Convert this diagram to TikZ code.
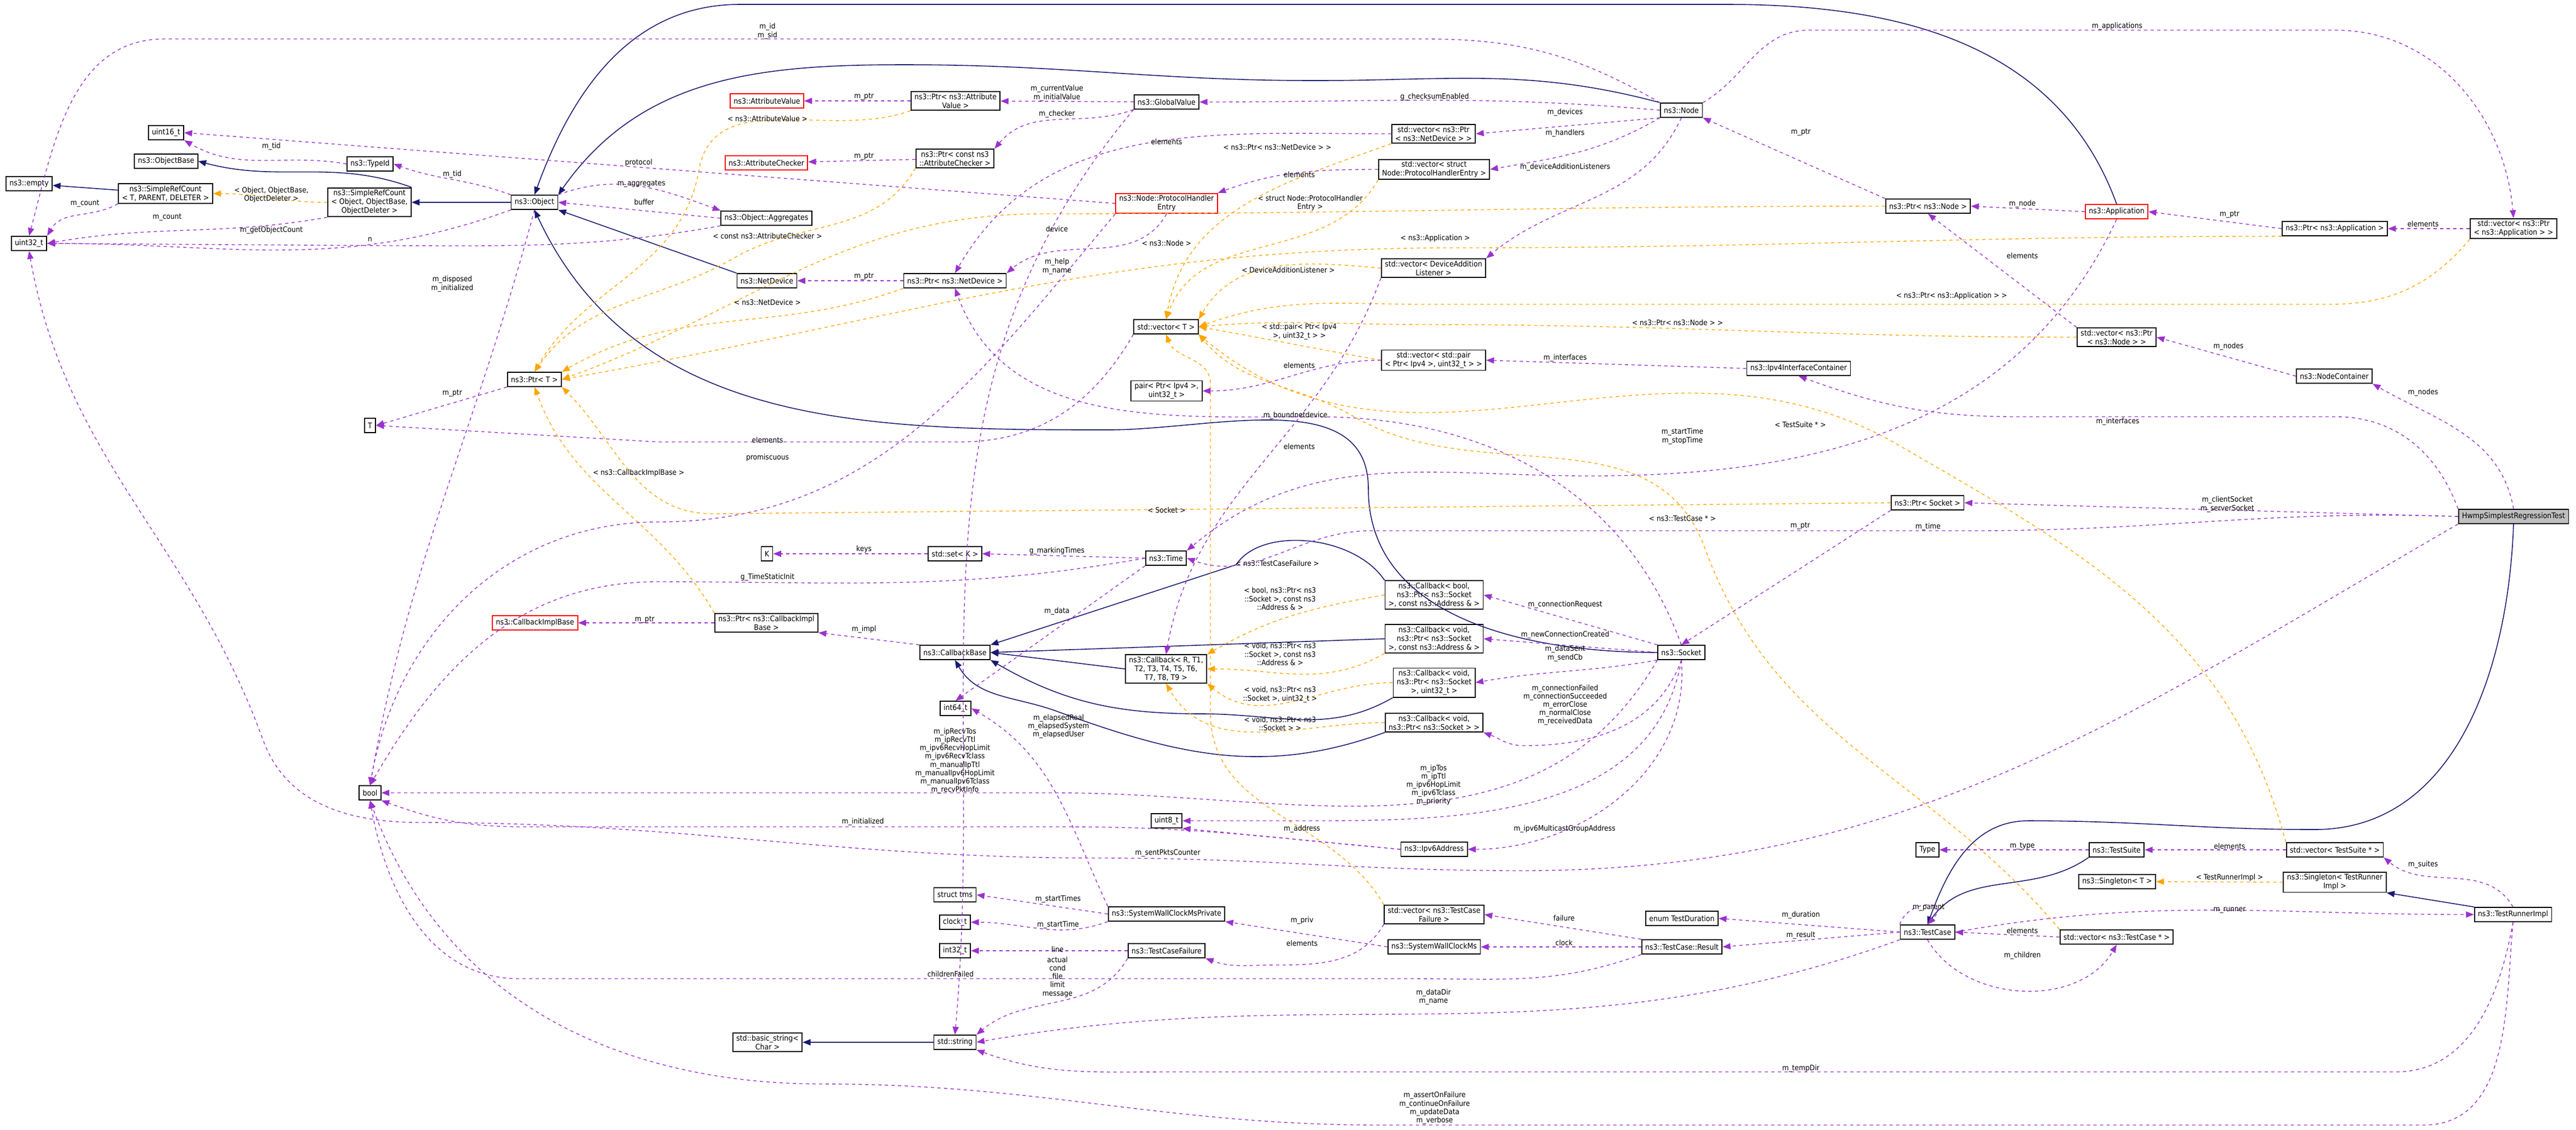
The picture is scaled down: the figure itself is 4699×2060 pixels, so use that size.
\documentclass[tikz,border=0pt]{standalone}
\usepackage{fontspec}
\setmainfont{DejaVu Sans Condensed}
\usetikzlibrary{arrows.meta}

\definecolor{edgepurple}{HTML}{9A32CD}
\definecolor{edgeorange}{HTML}{FFA500}
\definecolor{edgenavy}{HTML}{191970}

\begin{document}
\begin{tikzpicture}[
    x = 0.25pt, y = -0.25pt, % one unit per pixel
    cls/.style={draw, fill=white, line width=0.45pt, align=center,
      font=\fontsize{3.5}{4}\selectfont, inner xsep=1.6pt, inner ysep=0.9pt,
      minimum height=6.5pt},
    redcls/.style={cls, draw=red},
    maincls/.style={cls, fill=black!25},
    lbl/.style={font=\fontsize{3.4}{3.8}\selectfont, inner sep=0.2pt, align=center},
    member/.style={draw=edgepurple, line width=0.35pt, dash pattern=on 1.5pt off 1.5pt,
      -{Triangle[length=3.6pt,width=2.8pt]}},
    tmpl/.style={member, draw=edgeorange},
    inherit/.style={draw=edgenavy, line width=0.4pt, -{Triangle[length=3.6pt,width=2.8pt]}}
  ]
  \useasboundingbox (0,0) rectangle (4699,2060);

  % Nodes
  \node[cls] (empty) at (53,335) {ns3::empty};
  \node[cls] (uint32) at (53,444) {uint32\_t};
  \node[cls] (uint16) at (303,242) {uint16\_t};
  \node[cls] (objBase) at (303,294) {ns3::ObjectBase};
  \node[cls] (srcT) at (302,353) {ns3::SimpleRefCount\\{}< T, PARENT, DELETER >};
  \node[cls] (typeId) at (675,299) {ns3::TypeId};
  \node[cls] (srcObj) at (674,369) {ns3::SimpleRefCount\\{}< Object, ObjectBase,\\ObjectDeleter >};
  \node[cls] (object) at (975,369) {ns3::Object};
  \node[cls] (ptrT) at (975,692) {ns3::Ptr< T >};
  \node[cls] (tT) at (675,776) {T};
  \node[redcls] (attrVal) at (1399,184) {ns3::AttributeValue};
  \node[cls] (ptrAttrVal) at (1743,184) {ns3::Ptr< ns3::Attribute\\Value >};
  \node[cls] (globalVal) at (2128,186) {ns3::GlobalValue};
  \node[redcls] (attrChk) at (1398,297) {ns3::AttributeChecker};
  \node[cls] (ptrAttrChk) at (1742,289) {ns3::Ptr< const ns3\\::AttributeChecker >};
  \node[cls] (aggr) at (1398,398) {ns3::Object::Aggregates};
  \node[redcls] (phe) at (2128,371) {ns3::Node::ProtocolHandler\\Entry};
  \node[cls] (netDev) at (1399,512) {ns3::NetDevice};
  \node[cls] (ptrNetDev) at (1742,512) {ns3::Ptr< ns3::NetDevice >};
  \node[cls] (vecT) at (2127,596) {std::vector< T >};
  \node[cls] (node) at (3067,201) {ns3::Node};
  \node[cls] (vecNetDev) at (2615,244) {std::vector< ns3::Ptr\\{}< ns3::NetDevice > >};
  \node[cls] (vecPhe) at (2616,309) {std::vector< struct\\Node::ProtocolHandlerEntry >};
  \node[cls] (ptrNode) at (3517,376) {ns3::Ptr< ns3::Node >};
  \node[cls] (vecDal) at (2615,489) {std::vector< DeviceAddition\\Listener >};
  \node[cls] (vecPair) at (2615,657) {std::vector< std::pair\\{}< Ptr< Ipv4 >, uint32\_t > >};
  \node[cls] (ipv4Ic) at (3281,672) {ns3::Ipv4InterfaceContainer};
  \node[redcls] (app) at (3861,386) {ns3::Application};
  \node[cls] (ptrApp) at (4259,417) {ns3::Ptr< ns3::Application >};
  \node[cls] (vecApp) at (4585,417) {std::vector< ns3::Ptr\\{}< ns3::Application > >};
  \node[cls] (vecNode) at (3861,615) {std::vector< ns3::Ptr\\{}< ns3::Node > >};
  \node[cls] (nodeCont) at (4258,686) {ns3::NodeContainer};
  \node[redcls] (cbImplB) at (976,1136) {ns3::CallbackImplBase};
  \node[cls] (pairIpv4) at (2128,713) {pair< Ptr< Ipv4 >,\\uint32\_t >};
  \node[cls] (kT) at (1399,1010) {K};
  \node[cls] (setK) at (1742,1010) {std::set< K >};
  \node[cls] (time) at (2127,1018) {ns3::Time};
  \node[cls] (ptrCbImpl) at (1398,1136) {ns3::Ptr< ns3::CallbackImpl\\Base >};
  \node[cls] (cbBase) at (1742,1190) {ns3::CallbackBase};
  \node[cls] (cbR) at (2127,1220) {ns3::Callback< R, T1,\\T2, T3, T4, T5, T6,\\T7, T8, T9 >};
  \node[cls] (int64) at (1743,1292) {int64\_t};
  \node[cls] (cbBool) at (2616,1085) {ns3::Callback< bool,\\ns3::Ptr< ns3::Socket\\>, const ns3::Address \& >};
  \node[cls] (cbAddr) at (2616,1165) {ns3::Callback< void,\\ns3::Ptr< ns3::Socket\\>, const ns3::Address \& >};
  \node[cls] (cbUint) at (2616,1245) {ns3::Callback< void,\\ns3::Ptr< ns3::Socket\\>, uint32\_t >};
  \node[cls] (cbSock) at (2616,1318) {ns3::Callback< void,\\ns3::Ptr< ns3::Socket > >};
  \node[cls] (socket) at (3067,1190) {ns3::Socket};
  \node[cls] (ptrSocket) at (3516,917) {ns3::Ptr< Socket >};
  \node[maincls] (hwmp) at (4585,942) {HwmpSimplestRegressionTest};
  \node[cls] (bool) at (675,1446) {bool};
  \node[cls] (basicStr) at (1400,1901) {std::basic\_string<\\Char >};
  \node[cls] (uint8) at (2128,1497) {uint8\_t};
  \node[cls] (ipv6) at (2616,1549) {ns3::Ipv6Address};
  \node[cls] (tms) at (1742,1632) {struct tms};
  \node[cls] (swcmp) at (2128,1667) {ns3::SystemWallClockMsPrivate};
  \node[cls] (clockT) at (1742,1682) {clock\_t};
  \node[cls] (int32) at (1742,1734) {int32\_t};
  \node[cls] (tcFail) at (2128,1734) {ns3::TestCaseFailure};
  \node[cls] (vecTcFail) at (2616,1668) {std::vector< ns3::TestCase\\Failure >};
  \node[cls] (swcm) at (2616,1727) {ns3::SystemWallClockMs};
  \node[cls] (str) at (1742,1901) {std::string};
  \node[cls] (tcDur) at (3068,1675) {enum TestDuration};
  \node[cls] (tcResult) at (3068,1727) {ns3::TestCase::Result};
  \node[cls] (type) at (3516,1550) {Type};
  \node[cls] (suite) at (3861,1550) {ns3::TestSuite};
  \node[cls] (vecSuite) at (4259,1550) {std::vector< TestSuite * >};
  \node[cls] (singT) at (3862,1608) {ns3::Singleton< T >};
  \node[cls] (singTri) at (4259,1609) {ns3::Singleton< TestRunner\\Impl >};
  \node[cls] (testCase) at (3516,1700) {ns3::TestCase};
  \node[cls] (vecTc) at (3861,1709) {std::vector< ns3::TestCase * >};
  \node[cls] (tri) at (4584,1668) {ns3::TestRunnerImpl};

  % Inheritance
  \draw[inherit] (srcT) -- (empty);
  \draw[inherit] (srcObj.north east) to[out=160,in=-15] (objBase.east);
  \draw[inherit] (object) -- (srcObj);
  \draw[inherit] (app.north) to[out=110,in=0] (3150,8) -- (1350,8) to[out=180,in=70] (object.north);
  \draw[inherit] (node.north west) to[out=165,in=0] (2400,147) to[out=180,in=0] (1650,118)
    to[out=180,in=55] (object.north east);
  \draw[inherit] (netDev.north west) -- (object.south east);
  \draw[inherit] (socket.west) to[out=180,in=-90] (2496,891) to[out=90,in=0] (2022,784)
    to[out=180,in=-65] (object.south);
  \draw[inherit] (cbBool.north west) .. controls (2470,975) and (2300,960) .. (2255,1030) -- (cbBase.north east);
  \draw[inherit] (cbAddr.west) -- (cbBase.east);
  \draw[inherit] (cbR.west) -- (cbBase.east);
  \draw[inherit] (cbUint.south west) to[out=-150,in=0] (2195,1302) to[out=180,in=-30] (cbBase.south east);
  \draw[inherit] (cbSock.south west) to[out=-160,in=-20] (1927,1297) to[out=160,in=-60] (cbBase.south);
  \draw[inherit] (str) -- (basicStr);
  \draw[inherit] (suite.south west) to[out=-145,in=55] (testCase.north);
  \draw[inherit] (hwmp.south) to[out=-92,in=0] (4222,1513) to[out=180,in=0] (3700,1497)
    to[out=180,in=70] (testCase.north);
  \draw[inherit] (tri.north west) -- (singTri.south east);

  % Templates
  \draw[tmpl] (srcObj.west) to[out=180,in=0] (srcT.east);
  \draw[tmpl] (ptrAttrVal.south west) to[out=-160,in=80] (1275,310) to[out=-100,in=60] (ptrT.north);
  \draw[tmpl] (ptrAttrChk.south west) to[out=-120,in=30] (1340,470) to[out=-150,in=55] (ptrT.north);
  \draw[tmpl] (ptrNetDev.south west) to[out=-160,in=30] (ptrT.north east);
  \draw[tmpl] (ptrNode.west) to[out=180,in=0] (1900,390) to[out=180,in=20] (ptrT.east);
  \draw[tmpl] (ptrApp.south west) to[out=180,in=0] (2650,452) to[out=180,in=10] (ptrT.east);
  \draw[tmpl] (ptrCbImpl.north west) to[out=120,in=-70] (ptrT.south);
  \draw[tmpl] (ptrSocket.west) -- (1300,937) to[out=180,in=-45] (ptrT.south east);
  \draw[tmpl] (vecNetDev.south west) to[out=-160,in=80] (vecT.north);
  \draw[tmpl] (vecPhe.south west) to[out=-120,in=70] (vecT.north);
  \draw[tmpl] (vecDal.west) to[out=175,in=60] (vecT.north east);
  \draw[tmpl] (vecPair.west) to[out=170,in=-10] (vecT.east);
  \draw[tmpl] (vecNode.west) to[out=180,in=0] (2600,592) to[out=180,in=5] (vecT.east);
  \draw[tmpl] (vecApp.south west) to[out=-130,in=0] (4250,555) -- (2600,555) to[out=180,in=20] (vecT.east);
  \draw[tmpl] (vecTcFail.north west) to[out=120,in=-90] (2208,1300) -- (2208,700) to[out=90,in=-70] (vecT.south);
  \draw[tmpl] (vecSuite.north west) to[out=105,in=-30] (3460,810) to[out=150,in=-40] (vecT.south east);
  \draw[tmpl] (vecTc.north west) to[out=130,in=-70] (3110,1000) to[out=110,in=-30] (2470,760)
    to[out=150,in=-50] (vecT.south east);
  \draw[tmpl] (cbBool.west) to[out=-170,in=30] (cbR.north east);
  \draw[tmpl] (cbAddr.south west) to[out=-150,in=0] (cbR.east);
  \draw[tmpl] (cbUint.west) to[out=180,in=-40] (cbR.south east);
  \draw[tmpl] (cbSock.west) to[out=180,in=-60] (cbR.south);
  \draw[tmpl] (singTri.west) -- (singT.east);

  % Members
  \draw[member] (srcT.south west) to[out=-150,in=60] (uint32.north east);
  \draw[member] (srcObj.south west) to[out=-170,in=10] (uint32.east);
  \draw[member] (object.south west) to[out=-160,in=0] (uint32.east);
  \draw[member] (aggr.south west) to[out=-170,in=0] (700,448) -- (uint32.east);
  \draw[member] (object.north west) to[out=160,in=-20] (typeId.east);
  \draw[member] (typeId.west) to[out=170,in=-30] (uint16.south east);
  \draw[member] (phe.west) -- (uint16.east);
  \draw[member] (object.north east) to[out=20,in=160] (aggr.north west);
  \draw[member] (aggr.west) -- (object.east);
  \draw[member] (object.south) to[out=-105,in=80] (bool.north);
  \draw[member] (ptrT.south west) -- (tT.east);
  \draw[member] (vecT.south west) to[out=-120,in=0] (1750,806) -- (1200,806) -- (tT.east);
  \draw[member] (ptrAttrVal) -- (attrVal);
  \draw[member] (ptrAttrChk) -- (attrChk);
  \draw[member] (globalVal) -- (ptrAttrVal);
  \draw[member] (globalVal.south west) to[out=-160,in=50] (ptrAttrChk.north east);
  \draw[member] (globalVal.south west) to[out=-130,in=85] (str.north);
  \draw[member] (ptrNetDev) -- (netDev);
  \draw[member] (phe.south) to[out=-120,in=40] (ptrNetDev.north east);
  \draw[member] (vecNetDev.west) to[out=180,in=60] (ptrNetDev.north);
  \draw[member] (phe.south west) to[out=-130,in=0] (1200,952) to[out=180,in=80] (bool.north);
  \draw[member] (node.west) to[out=175,in=0] (globalVal.east);
  \draw[member] (node.south west) -- (vecNetDev.east);
  \draw[member] (node.south west) to[out=-150,in=10] (vecPhe.east);
  \draw[member] (vecPhe.west) to[out=180,in=20] (phe.north east);
  \draw[member] (node.south) to[out=-115,in=40] (vecDal.north east);
  \draw[member] (node.north west) to[out=150,in=0] (2600,71) -- (300,71) to[out=180,in=75] (uint32.north);
  \draw[member] (node.north east) to[out=30,in=180] (3300,55) -- (4260,55) to[out=0,in=95] (vecApp.north);
  \draw[member] (ptrNode.north west) -- (node.south east);
  \draw[member] (app.west) -- (ptrNode.east);
  \draw[member] (app.south) to[out=-115,in=0] (2900,868) to[out=180,in=40] (time.north east);
  \draw[member] (ptrApp.west) -- (app.east);
  \draw[member] (vecApp) -- (ptrApp);
  \draw[member] (vecNode.north west) -- (ptrNode.south);
  \draw[member] (nodeCont.west) -- (vecNode.east);
  \draw[member] (ipv4Ic.west) -- (vecPair.east);
  \draw[member] (vecPair.west) to[out=180,in=0] (pairIpv4.east);
  \draw[member] (vecDal.south west) to[out=-110,in=80] (cbR.north);
  \draw[member] (hwmp.north west) to[out=110,in=0] (4260,760) -- (3680,760) to[out=180,in=-20] (ipv4Ic.south);
  \draw[member] (hwmp.north) to[out=100,in=-30] (nodeCont.south east);
  \draw[member] (hwmp.west) -- (ptrSocket.east);
  \draw[member] (hwmp.west) to[out=178,in=0] (3600,968) -- (2500,968) to[out=180,in=-20] (time.east);
  \draw[member] (ptrSocket.south west) -- (socket.north);
  \draw[member] (hwmp.south west) to[out=-150,in=0] (2775,1588) to[out=180,in=0] (2010,1565)
    to[out=180,in=0] (765,1500) to[out=180,in=-70] (480,1350) to[out=110,in=-80] (uint32.south);
  \draw[member] (time.west) -- (setK.east);
  \draw[member] (setK) -- (kT);
  \draw[member] (time.west) to[out=190,in=0] (1200,1061) to[out=180,in=60] (bool.north);
  \draw[member] (time.south west) -- (int64.north);
  \draw[member] (ptrCbImpl) -- (cbImplB);
  \draw[member] (cbBase.north west) -- (ptrCbImpl.south east);
  \draw[member] (socket.north west) -- (cbBool.east);
  \draw[member] (socket.west) -- (cbAddr.east);
  \draw[member] (socket.south west) to[out=-170,in=10] (cbUint.east);
  \draw[member] (socket.south) to[out=-110,in=0] (2780,1360) to[out=180,in=-20] (cbSock.south east);
  \draw[member] (socket.north) to[out=110,in=0] (2400,760) to[out=180,in=-70] (ptrNetDev.south);
  \draw[member] (socket.south west) to[out=-120,in=0] (1929,1446) -- (bool.east);
  \draw[member] (socket.south) to[out=-100,in=0] (2400,1497) -- (uint8.east);
  \draw[member] (socket.south) to[out=-85,in=0] (ipv6.east);
  \draw[member] (ipv6.west) -- (uint8.south east);
  \draw[member] (ipv6.west) to[out=175,in=0] (1950,1508) -- (957,1508) to[out=180,in=-20] (bool.south east);
  \draw[member] (swcmp.west) -- (tms.east);
  \draw[member] (swcmp.south west) to[out=-160,in=0] (clockT.east);
  \draw[member] (swcmp.north west) to[out=115,in=-30] (int64.east);
  \draw[member] (tcFail.west) -- (int32.east);
  \draw[member] (tcFail.south west) to[out=-120,in=40] (str.north east);
  \draw[member] (vecTcFail.south west) to[out=-120,in=0] (2330,1760) to[out=180,in=-20] (tcFail.south east);
  \draw[member] (swcm.west) -- (swcmp.south east);
  \draw[member] (tcResult.north west) -- (vecTcFail.east);
  \draw[member] (tcResult.west) -- (swcm.east);
  \draw[member] (tcResult.south west) to[out=-160,in=0] (2578,1785) -- (947,1785) to[out=180,in=-80] (bool.south);
  \draw[member] (testCase.west) -- (tcDur.east);
  \draw[member] (testCase.west) -- (tcResult.east);
  \draw[member] (testCase.south west) to[out=-160,in=10] (str.east);
  \draw[member] (testCase.north west) .. controls (3480,1640) and (3560,1640) .. (testCase.north);
  \draw[member] (testCase.east) to[out=10,in=180] (tri.west);
  \draw[member] (testCase.south) to[out=-60,in=-120] (vecTc.south);
  \draw[member] (vecTc.west) -- (testCase.east);
  \draw[member] (suite) -- (type);
  \draw[member] (vecSuite) -- (suite);
  \draw[member] (tri.north) to[out=120,in=-40] (vecSuite.south east);
  \draw[member] (tri.south) to[out=-100,in=0] (4370,1955) -- (2120,1955) to[out=180,in=-20] (str.south east);
  \draw[member] (tri.south) to[out=-95,in=0] (4420,2052) -- (2520,2052) to[out=180,in=0] (1500,1977)
    to[out=180,in=-70] (bool.south);

  % Labels
  \node[lbl] at (155,371) {m\_count};
  \node[lbl] at (305,396) {m\_count};
  \node[lbl] at (495,420) {m\_getObjectCount};
  \node[lbl] at (675,437) {n};
  \node[lbl] at (825,318) {m\_tid};
  \node[lbl] at (495,267) {m\_tid};
  \node[lbl] at (1165,297) {protocol};
  \node[lbl] at (1170,335) {m\_aggregates};
  \node[lbl] at (1175,368) {buffer};
  \node[lbl] at (825,518) {m\_disposed\\m\_initialized};
  \node[lbl] at (825,717) {m\_ptr};
  \node[lbl] at (1400,802) {elements};
  \node[lbl] at (1576,176) {m\_ptr};
  \node[lbl] at (1576,285) {m\_ptr};
  \node[lbl] at (1928,170) {m\_currentValue\\m\_initialValue};
  \node[lbl] at (1928,208) {m\_checker};
  \node[lbl] at (1928,486) {m\_help\\m\_name};
  \node[lbl] at (1576,504) {m\_ptr};
  \node[lbl] at (1928,417) {device};
  \node[lbl] at (2128,258) {elements};
  \node[lbl] at (2617,177) {g\_checksumEnabled};
  \node[lbl] at (2855,205) {m\_devices};
  \node[lbl] at (2855,243) {m\_handlers};
  \node[lbl] at (2370,318) {elements};
  \node[lbl] at (2855,305) {m\_deviceAdditionListeners};
  \node[lbl] at (1400,57) {m\_id\\m\_sid};
  \node[lbl] at (3862,48) {m\_applications};
  \node[lbl] at (3285,241) {m\_ptr};
  \node[lbl] at (3689,372) {m\_node};
  \node[lbl] at (3069,796) {m\_startTime\\m\_stopTime};
  \node[lbl] at (4067,391) {m\_ptr};
  \node[lbl] at (4420,408) {elements};
  \node[lbl] at (3689,466) {elements};
  \node[lbl] at (4065,632) {m\_nodes};
  \node[lbl] at (2855,653) {m\_interfaces};
  \node[lbl] at (2370,666) {elements};
  \node[lbl] at (2370,814) {elements};
  \node[lbl] at (3863,769) {m\_interfaces};
  \node[lbl] at (4420,716) {m\_nodes};
  \node[lbl] at (4063,920) {m\_clientSocket\\m\_serverSocket};
  \node[lbl] at (3517,961) {m\_time};
  \node[lbl] at (3284,959) {m\_ptr};
  \node[lbl] at (1928,1005) {g\_markingTimes};
  \node[lbl] at (1576,1002) {keys};
  \node[lbl] at (1400,1053) {g\_TimeStaticInit};
  \node[lbl] at (1928,1115) {m\_data};
  \node[lbl] at (1176,1130) {m\_ptr};
  \node[lbl] at (1576,1148) {m\_impl};
  \node[lbl] at (1400,835) {promiscuous};
  \node[lbl] at (2855,1103) {m\_connectionRequest};
  \node[lbl] at (2855,1158) {m\_newConnectionCreated};
  \node[lbl] at (2855,1192) {m\_dataSent\\m\_sendCb};
  \node[lbl] at (2855,1286) {m\_connectionFailed\\m\_connectionSucceeded\\m\_errorClose\\m\_normalClose\\m\_receivedData};
  \node[lbl] at (2363,758) {m\_boundnetdevice};
  \node[lbl] at (1742,1388) {m\_ipRecvTos\\m\_ipRecvTtl\\m\_ipv6RecvHopLimit\\m\_ipv6RecvTclass\\m\_manualIpTtl\\m\_manualIpv6HopLimit\\m\_manualIpv6Tclass\\m\_recvPktInfo};
  \node[lbl] at (2615,1432) {m\_ipTos\\m\_ipTtl\\m\_ipv6HopLimit\\m\_ipv6Tclass\\m\_priority};
  \node[lbl] at (2854,1512) {m\_ipv6MulticastGroupAddress};
  \node[lbl] at (2375,1512) {m\_address};
  \node[lbl] at (1574,1499) {m\_initialized};
  \node[lbl] at (2130,1556) {m\_sentPktsCounter};
  \node[lbl] at (1930,1640) {m\_startTimes};
  \node[lbl] at (1930,1687) {m\_startTime};
  \node[lbl] at (1931,1325) {m\_elapsedReal\\m\_elapsedSystem\\m\_elapsedUser};
  \node[lbl] at (1929,1731) {line};
  \node[lbl] at (1929,1782) {actual\\cond\\file\\limit\\message};
  \node[lbl] at (2375,1720) {elements};
  \node[lbl] at (2375,1679) {m\_priv};
  \node[lbl] at (2853,1674) {failure};
  \node[lbl] at (2853,1719) {clock};
  \node[lbl] at (1734,1776) {childrenFailed};
  \node[lbl] at (3285,1669) {m\_duration};
  \node[lbl] at (3285,1706) {m\_result};
  \node[lbl] at (2615,1818) {m\_dataDir\\m\_name};
  \node[lbl] at (3518,1655) {m\_parent};
  \node[lbl] at (4067,1660) {m\_runner};
  \node[lbl] at (3689,1743) {m\_children};
  \node[lbl] at (3689,1697) {elements};
  \node[lbl] at (3689,1543) {m\_type};
  \node[lbl] at (4067,1543) {elements};
  \node[lbl] at (4420,1577) {m\_suites};
  \node[lbl] at (3285,1949) {m\_tempDir};
  \node[lbl] at (2617,2021) {m\_assertOnFailure\\m\_continueOnFailure\\m\_updateData\\m\_verbose};
  \node[lbl] at (495,355) {< Object, ObjectBase,\\ObjectDeleter >};
  \node[lbl] at (1400,216) {< ns3::AttributeValue >};
  \node[lbl] at (1400,430) {< const ns3::AttributeChecker >};
  \node[lbl] at (1400,551) {< ns3::NetDevice >};
  \node[lbl] at (2128,443) {< ns3::Node >};
  \node[lbl] at (2618,435) {< ns3::Application >};
  \node[lbl] at (1165,863) {< ns3::CallbackImplBase >};
  \node[lbl] at (2128,930) {< Socket >};
  \node[lbl] at (2330,268) {< ns3::Ptr< ns3::NetDevice > >};
  \node[lbl] at (2390,370) {< struct Node::ProtocolHandler\\Entry >};
  \node[lbl] at (2350,492) {< DeviceAdditionListener >};
  \node[lbl] at (2370,605) {< std::pair< Ptr< Ipv4\\>, uint32\_t > >};
  \node[lbl] at (3060,588) {< ns3::Ptr< ns3::Node > >};
  \node[lbl] at (3560,540) {< ns3::Ptr< ns3::Application > >};
  \node[lbl] at (2330,1027) {< ns3::TestCaseFailure >};
  \node[lbl] at (3284,774) {< TestSuite * >};
  \node[lbl] at (3069,946) {< ns3::TestCase * >};
  \node[lbl] at (2335,1092) {< bool, ns3::Ptr< ns3\\::Socket >, const ns3\\::Address \& >};
  \node[lbl] at (2335,1193) {< void, ns3::Ptr< ns3\\::Socket >, const ns3\\::Address \& >};
  \node[lbl] at (2335,1267) {< void, ns3::Ptr< ns3\\::Socket >, uint32\_t >};
  \node[lbl] at (2335,1320) {< void, ns3::Ptr< ns3\\::Socket > >};
  \node[lbl] at (4067,1601) {< TestRunnerImpl >};
\end{tikzpicture}
\end{document}
